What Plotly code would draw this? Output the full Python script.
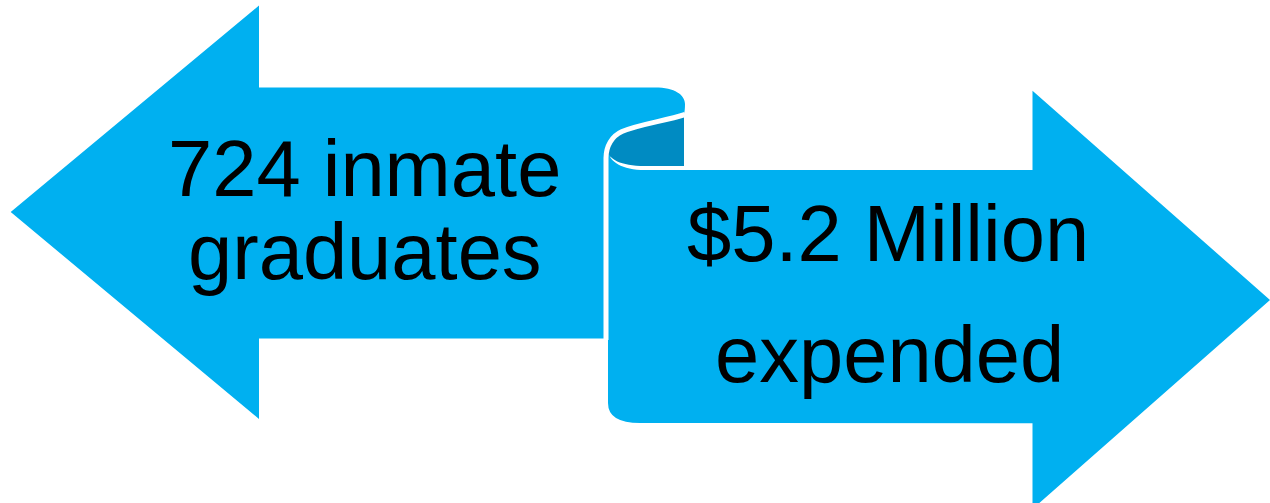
import plotly.graph_objects as go

# ---- content ----
left_lines = ["724 inmate", "graduates"]
right_lines = ["$5.2 Million", "expended"]

# ---- style ----
W, H = 1270, 503
BLUE = "#00B0F0"
DARK = "#008BC2"
FONT = "Liberation Sans, Arial, sans-serif"
FS = 79.5

# text anchor positions (pixel space, y downward)
left_x = [364, 364.5]
left_y = [168.5, 251.8]
right_x = [887.5, 889.5]
right_y = [233.2, 354.2]

# shapes (pixel coords)
left_arrow = ("M 10.7,212 L 259,5.5 L 259,87.5 L 655,87.5 "
              "C 675,87.5 685,95 685,104 C 685,112 684,118 680,120 "
              "L 640,135 L 606,160 L 606,338.5 L 259,338.5 L 259,419 Z")
body = ("M 608,150 L 608,403 Q 608,423 640,423 L 1032.5,423.3 L 1032.5,509 "
        "L 1270,300 L 1032.5,90.7 L 1032.5,170 L 645,170 C 622,170 609,162 608,150 Z")
dark = ("M 684,114.5 C 665,121 640,125 622,132.5 C 612,137 607,144 607,150 "
        "C 609,159 620,166 645,166 L 684,166 Z")
stroke = ("M 685,114.5 C 665,121 640,124 622,131.5 C 612,136 606,146 606,158 "
          "L 606,340")

fig = go.Figure()
fig.add_trace(go.Scatter(x=[0, W], y=[0, H], mode="markers",
                         marker=dict(opacity=0), hoverinfo="skip", showlegend=False))

for p, fc in [(left_arrow, BLUE), (body, BLUE), (dark, DARK)]:
    fig.add_shape(type="path", path=p, xref="x", yref="y",
                  fillcolor=fc, line=dict(width=0), layer="below")
fig.add_shape(type="path", path=stroke, xref="x", yref="y",
              fillcolor="rgba(0,0,0,0)", line=dict(color="white", width=5), layer="below")

for txt, x, y in list(zip(left_lines, left_x, left_y)) + list(zip(right_lines, right_x, right_y)):
    fig.add_annotation(x=x, y=y, xref="x", yref="y", text=txt, showarrow=False,
                       xanchor="center", yanchor="middle",
                       font=dict(family=FONT, size=FS, color="black"))

fig.update_layout(
    width=W, height=H, margin=dict(l=0, r=0, t=0, b=0),
    paper_bgcolor="white", plot_bgcolor="white",
    xaxis=dict(range=[0, W], visible=False, fixedrange=True),
    yaxis=dict(range=[H, 0], visible=False, fixedrange=True),
    showlegend=False,
)

fig.write_html("out.html", config={"displayModeBar": False, "staticPlot": True},
               post_script="document.body.style.margin='0';document.body.style.overflow='hidden';")
